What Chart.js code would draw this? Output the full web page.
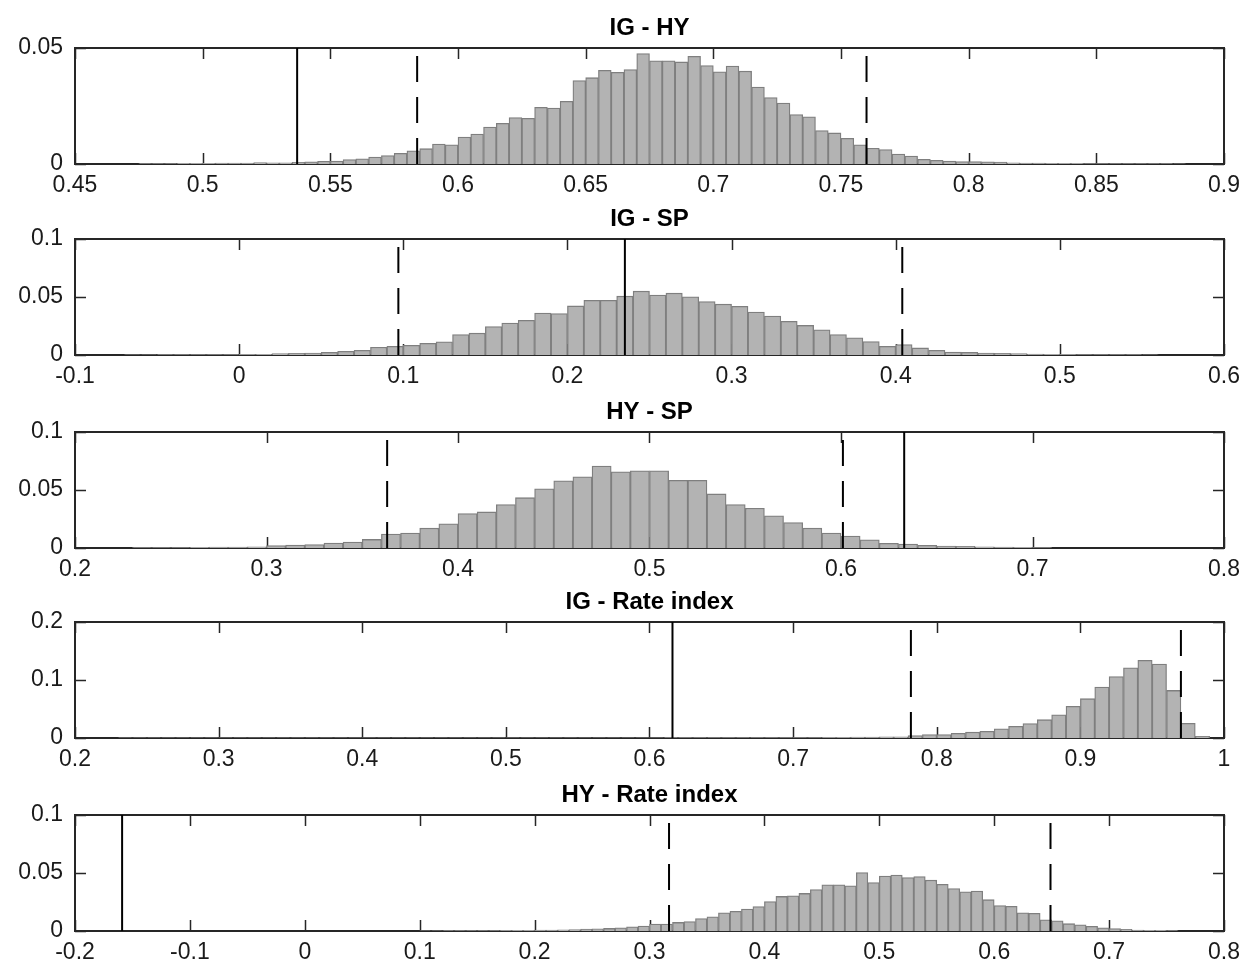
<!DOCTYPE html>
<html>
<head>
<meta charset="utf-8">
<script src="https://cdn.jsdelivr.net/npm/chart.js@4.4.1/dist/chart.umd.min.js"></script>
<style>
  html, body { margin: 0; background: #fff; }
  #page { position: relative; width: 1252px; height: 970px; }
  .panel { position: absolute; left: 0; width: 1252px; height: 200px; }
</style>
</head>
<body>
<div id="page"></div>
<script>
// Bootstrap distributions of the correlation estimates, one histogram per pair.
// Each histogram: first bin start, bin width, relative frequencies,
// point estimate (solid line) and confidence band (dashed lines).

const titles = ['IG - HY', 'IG - SP', 'HY - SP', 'IG - Rate index', 'HY - Rate index'];

// IG - HY
const igHyStart = 0.475;
const igHyWidth = 0.005;
const igHyFreq = [
  0.0002, 0.0002, 0.0002, 0.0003, 0.0003, 0.0003, 0.0004, 0.0004, 0.0004, 0.0006,
  0.0005, 0.0005, 0.0007, 0.0009, 0.0012, 0.0013, 0.0019, 0.0022, 0.0030, 0.0036,
  0.0046, 0.0057, 0.0066, 0.0086, 0.0083, 0.0116, 0.0129, 0.0159, 0.0175, 0.0200,
  0.0197, 0.0244, 0.0241, 0.0270, 0.0360, 0.0372, 0.0404, 0.0395, 0.0407, 0.0476,
  0.0445, 0.0445, 0.0440, 0.0464, 0.0424, 0.0397, 0.0422, 0.0400, 0.0332, 0.0286,
  0.0263, 0.0213, 0.0203, 0.0144, 0.0134, 0.0111, 0.0083, 0.0068, 0.0062, 0.0043,
  0.0034, 0.0020, 0.0016, 0.0013, 0.0010, 0.0010, 0.0009, 0.0008, 0.0005, 0.0004,
  0.0004, 0.0003, 0.0003, 0.0003, 0.0002, 0.0002, 0.0002, 0.0002, 0.0002, 0.0002,
  0.0002, 0.0001
];
const igHyEst = 0.537;
const igHyBand = [0.584, 0.760];

// IG - SP
const igSpStart = -0.07;
const igSpWidth = 0.01;
const igSpFreq = [
  0.0002, 0.0002, 0.0003, 0.0003, 0.0003, 0.0004, 0.0004, 0.0005, 0.0006, 0.0012,
  0.0014, 0.0017, 0.0023, 0.0032, 0.0040, 0.0067, 0.0075, 0.0084, 0.0101, 0.0113,
  0.0177, 0.0188, 0.0246, 0.0275, 0.0299, 0.0362, 0.0357, 0.0423, 0.0472, 0.0472,
  0.0507, 0.0550, 0.0516, 0.0533, 0.0501, 0.0461, 0.0438, 0.0420, 0.0371, 0.0336,
  0.0290, 0.0255, 0.0217, 0.0177, 0.0148, 0.0116, 0.0075, 0.0090, 0.0061, 0.0040,
  0.0026, 0.0023, 0.0017, 0.0014, 0.0012, 0.0008, 0.0006, 0.0005, 0.0004, 0.0004,
  0.0003, 0.0003, 0.0002
];
const igSpEst = 0.235;
const igSpBand = [0.097, 0.404];

// HY - SP
const hySpStart = 0.23;
const hySpWidth = 0.01;
const hySpFreq = [
  0.0003, 0.0003, 0.0003, 0.0006, 0.0008, 0.0009, 0.0011, 0.0020, 0.0026, 0.0029,
  0.0043, 0.0051, 0.0074, 0.0120, 0.0129, 0.0171, 0.0209, 0.0297, 0.0311, 0.0374,
  0.0434, 0.0511, 0.0580, 0.0614, 0.0706, 0.0657, 0.0666, 0.0666, 0.0583, 0.0583,
  0.0466, 0.0374, 0.0343, 0.0277, 0.0220, 0.0171, 0.0129, 0.0103, 0.0071, 0.0040,
  0.0034, 0.0023, 0.0017, 0.0014, 0.0011, 0.0009, 0.0006, 0.0003
];
const hySpEst = 0.633;
const hySpBand = [0.363, 0.601];

// IG - Rate index
const igRateStart = 0.23;
const igRateWidth = 0.01;
const igRateFreq = [
  0.0002, 0.0002, 0.0002, 0.0002, 0.0002, 0.0002, 0.0002, 0.0003, 0.0002, 0.0003,
  0.0003, 0.0003, 0.0002, 0.0003, 0.0003, 0.0003, 0.0003, 0.0003, 0.0003, 0.0003,
  0.0003, 0.0003, 0.0003, 0.0004, 0.0003, 0.0004, 0.0004, 0.0004, 0.0004, 0.0004,
  0.0004, 0.0005, 0.0004, 0.0005, 0.0005, 0.0005, 0.0005, 0.0005, 0.0006, 0.0006,
  0.0006, 0.0006, 0.0006, 0.0007, 0.0007, 0.0007, 0.0007, 0.0008, 0.0009, 0.0010,
  0.0012, 0.0014, 0.0017, 0.0019, 0.0021, 0.0040, 0.0060, 0.0060, 0.0080, 0.0100,
  0.0115, 0.0160, 0.0200, 0.0250, 0.0316, 0.0400, 0.0546, 0.0678, 0.0880, 0.1060,
  0.1210, 0.1340, 0.1276, 0.0820, 0.0253, 0.0030
];
const igRateEst = 0.616;
const igRateBand = [0.782, 0.970];

// HY - Rate index
const hyRateStart = 0.10;
const hyRateWidth = 0.01;
const hyRateFreq = [
  0.0002, 0.0002, 0.0003, 0.0003, 0.0003, 0.0004, 0.0004, 0.0005, 0.0006, 0.0006,
  0.0008, 0.0009, 0.0011, 0.0013, 0.0016, 0.0019, 0.0022, 0.0028, 0.0037, 0.0043,
  0.0060, 0.0060, 0.0074, 0.0082, 0.0108, 0.0122, 0.0156, 0.0170, 0.0190, 0.0210,
  0.0253, 0.0298, 0.0304, 0.0324, 0.0358, 0.0398, 0.0398, 0.0389, 0.0503, 0.0418,
  0.0474, 0.0483, 0.0460, 0.0469, 0.0438, 0.0403, 0.0366, 0.0338, 0.0344, 0.0270,
  0.0219, 0.0213, 0.0156, 0.0153, 0.0097, 0.0088, 0.0063, 0.0054, 0.0040, 0.0028,
  0.0020, 0.0014, 0.0009, 0.0006, 0.0006, 0.0003
];
const hyRateEst = -0.159;
const hyRateBand = [0.317, 0.649];

// axis limits and tick steps: [min, max, step]
const xAxes = [[0.45, 0.9, 0.05], [-0.1, 0.6, 0.1], [0.2, 0.8, 0.1], [0.2, 1, 0.1], [-0.2, 0.8, 0.1]];
const yAxes = [[0, 0.05, 0.05], [0, 0.1, 0.05], [0, 0.1, 0.05], [0, 0.2, 0.1], [0, 0.1, 0.05]];

const hists = [
  [igHyStart, igHyWidth, igHyFreq, igHyEst, igHyBand],
  [igSpStart, igSpWidth, igSpFreq, igSpEst, igSpBand],
  [hySpStart, hySpWidth, hySpFreq, hySpEst, hySpBand],
  [igRateStart, igRateWidth, igRateFreq, igRateEst, igRateBand],
  [hyRateStart, hyRateWidth, hyRateFreq, hyRateEst, hyRateBand]
];

const axisTops = [48, 239, 432, 622, 815];
const TITLE_H = 48;
const AREA_H = 116;
const XAXIS_H = 38;
const TICK_LEN = 11;
const AXIS_COLOR = '#262626';

Chart.defaults.font.family = '"Liberation Sans", Arial, Helvetica, sans-serif';
Chart.defaults.color = '#1a1a1a';

const fmt = v => String(Number(v.toFixed(4)));

// MATLAB-style box with inward ticks on all four sides
const boxTicks = {
  id: 'boxTicks',
  beforeDatasetsDraw(chart) {
    const { ctx, chartArea: a, scales: { x, y } } = chart;
    ctx.save();
    ctx.strokeStyle = AXIS_COLOR;
    ctx.lineWidth = 1.5;
    ctx.beginPath();
    x.ticks.forEach(t => {
      const px = Math.round(x.getPixelForValue(t.value)) + 0.5;
      ctx.moveTo(px, a.bottom); ctx.lineTo(px, a.bottom - TICK_LEN);
      ctx.moveTo(px, a.top); ctx.lineTo(px, a.top + TICK_LEN);
    });
    y.ticks.forEach(t => {
      const py = Math.round(y.getPixelForValue(t.value)) + 0.5;
      ctx.moveTo(a.left, py); ctx.lineTo(a.left + TICK_LEN, py);
      ctx.moveTo(a.right, py); ctx.lineTo(a.right - TICK_LEN, py);
    });
    ctx.stroke();
    ctx.lineWidth = 2;
    ctx.strokeRect(a.left, a.top, a.right - a.left, a.bottom - a.top);
    ctx.restore();
  }
};

function vline(x, top, dashed) {
  return {
    type: 'line',
    data: [{ x: x, y: 0 }, { x: x, y: top }],
    borderColor: '#000',
    borderWidth: 2,
    borderDash: dashed ? [26, 15] : [],
    pointRadius: 0,
    fill: false,
    order: 0
  };
}

const page = document.getElementById('page');

hists.forEach(([start, width, freq, est, band], i) => {
  const div = document.createElement('div');
  div.className = 'panel';
  div.style.top = (axisTops[i] - TITLE_H) + 'px';
  const canvas = document.createElement('canvas');
  canvas.width = 1252;
  canvas.height = TITLE_H + AREA_H + XAXIS_H;
  div.appendChild(canvas);
  page.appendChild(div);

  const [xMin, xMax, xStep] = xAxes[i];
  const [yMin, yMax, yStep] = yAxes[i];
  const bars = freq.map((v, k) => ({ x: start + (k + 0.5) * width, y: v }));

  new Chart(canvas, {
    type: 'bar',
    data: {
      datasets: [
        vline(est, yMax, false),
        vline(band[0], yMax * 0.93, true),
        vline(band[1], yMax * 0.93, true),
        {
          type: 'bar',
          data: bars,
          backgroundColor: '#b3b3b3',
          borderColor: '#7f7f7f',
          borderWidth: 1.3,
          barPercentage: 1,
          categoryPercentage: 1,
          grouped: false,
          order: 1
        }
      ]
    },
    options: {
      responsive: false,
      animation: false,
      events: [],
      layout: { padding: { left: 0, right: 28, top: 0, bottom: 0 } },
      plugins: {
        legend: { display: false },
        tooltip: { enabled: false },
        title: {
          display: true,
          fullSize: false,
          text: titles[i],
          color: '#000',
          font: { size: 24, weight: 'bold' },
          padding: { top: 13.6, bottom: 5.6 }
        }
      },
      scales: {
        x: {
          type: 'linear',
          min: xMin,
          max: xMax,
          offset: false,
          grid: { display: false, drawTicks: false, offset: false },
          border: { display: false },
          ticks: {
            stepSize: xStep,
            autoSkip: false,
            maxRotation: 0,
            padding: 8,
            font: { size: 23 },
            callback: fmt
          },
          afterFit(scale) { scale.height = XAXIS_H; }
        },
        y: {
          min: yMin,
          max: yMax,
          grid: { display: false, drawTicks: false },
          border: { display: false },
          ticks: {
            stepSize: yStep,
            padding: 12,
            font: { size: 23 },
            callback: fmt
          },
          afterFit(scale) { scale.width = 75; }
        }
      }
    },
    plugins: [boxTicks]
  });
});
</script>
</body>
</html>
